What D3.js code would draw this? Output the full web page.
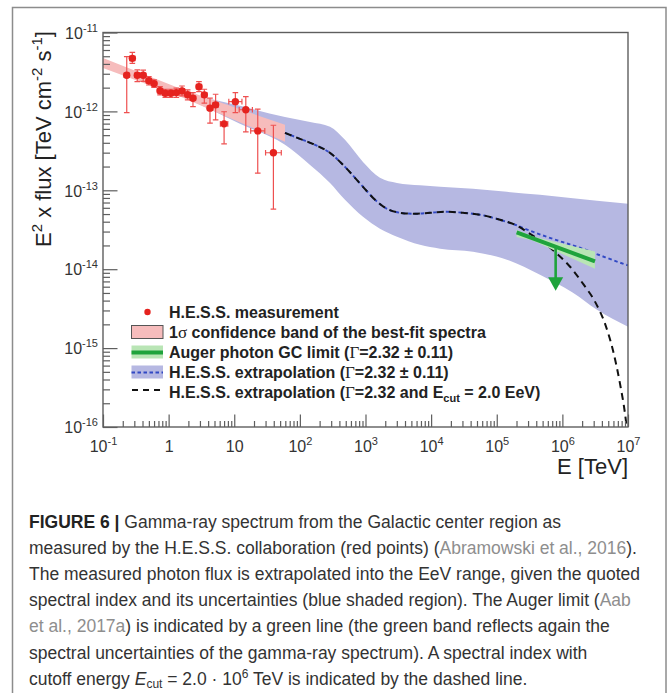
<!DOCTYPE html>
<html><head><meta charset="utf-8">
<script src="https://cdn.jsdelivr.net/npm/d3@7"></script>
<style>body{margin:0;background:#fff}text{font-family:"Liberation Sans",Arial,sans-serif}</style>
</head><body><svg id="c" width="670" height="693"></svg>
<script>
// ---------- data ----------
// H.E.S.S. measured points: energy [TeV], E^2 flux, errors
const hessE   = [0.23,0.28,0.333,0.41,0.50,0.60,0.74,0.89,1.08,1.31,1.6,1.95,2.35,2.9,3.5,4.27,5.2,7.0,10.4,15,22.8,39.5];
const hessF   = [2.87e-12,4.7e-12,2.87e-12,2.87e-12,2.45e-12,2.25e-12,1.83e-12,1.70e-12,1.70e-12,1.73e-12,1.82e-12,1.63e-12,1.47e-12,2.06e-12,1.62e-12,1.10e-12,1.21e-12,6.95e-13,1.33e-12,1.05e-12,5.66e-13,2.99e-13];
const hessFhi = [4.94e-12,5.61e-12,3.35e-12,3.33e-12,2.76e-12,2.51e-12,2.06e-12,1.91e-12,1.91e-12,1.97e-12,2.10e-12,1.87e-12,1.73e-12,2.38e-12,1.91e-12,1.47e-12,1.65e-12,9.9e-13,1.73e-12,1.54e-12,1.07e-12,6.68e-13];
const hessFlo = [9.66e-13,4.07e-12,2.38e-12,2.40e-12,2.16e-12,2.02e-12,1.62e-12,1.51e-12,1.51e-12,1.51e-12,1.57e-12,1.40e-12,1.15e-12,1.78e-12,1.27e-12,7.1e-13,7.8e-13,3.88e-13,9.66e-13,5.5e-13,1.65e-13,5.78e-14];
const hessElo = [0.21,0.255,0.304,0.374,0.456,0.547,0.675,0.812,0.985,1.20,1.46,1.78,2.14,2.65,3.19,3.90,4.74,6.15,8.26,11.9,17.8,30.0];
const hessEhi = [0.252,0.307,0.365,0.449,0.548,0.658,0.811,0.975,1.18,1.44,1.75,2.14,2.58,3.18,3.84,4.68,5.70,7.97,13.1,18.9,29.2,52.1];

// 1 sigma confidence band of best-fit spectrum (pink)
const pinkE  = [0.1, 1.49, 59.3];
const pinkLo = [3.56e-12, 1.55e-12, 4.11e-13];
const pinkHi = [4.75e-12, 1.95e-12, 6.75e-13];

// extrapolation band (blue)
const bandE  = [2.12,12.2,59.3,143,288,487,916,1660,3020,6770,1.37e4,4.35e4,1.43e5,4.56e5,1.45e6,3.37e6,1e7];
const bandHi = [1.665e-12,1.175e-12,8.52e-13,7.36e-13,6.37e-13,4.36e-13,2.29e-13,1.44e-13,1.24e-13,1.157e-13,1.107e-13,1.045e-13,9.57e-14,8.77e-14,7.92e-14,7.36e-14,6.75e-14];
const bandLo = [1.40e-12,6.95e-13,3.77e-13,2.10e-13,1.24e-13,7.59e-14,4.62e-14,3.26e-14,2.58e-14,2.04e-14,1.82e-14,1.67e-14,1.32e-14,8.51e-15,5.04e-15,3.07e-15,1.87e-15];

// extrapolation with cutoff (black dashed)
const cutE = [59.3,100.4,170,288,487,916,1396,2126,3355,5680,9615,1.745e4,3.06e4,5.56e4,1.12e5,1.90e5,3.21e5,5.44e5,8.28e5,1.31e6,2.06e6,3.14e6,4.46e6,5.91e6,7.55e6,9.0e6,1e7];
const cutF = [5.34e-13,4.49e-13,3.77e-13,2.98e-13,1.98e-13,1.107e-13,7.58e-14,5.83e-14,5.19e-14,5.04e-14,5.19e-14,5.34e-14,5.19e-14,4.90e-14,4.23e-14,3.66e-14,2.81e-14,2.10e-14,1.57e-14,1.075e-14,6.55e-15,3.88e-15,2.04e-15,9.30e-16,3.55e-16,1.48e-16,7.15e-17];

// extrapolation without cutoff (blue dotted)
const extE = [59.3,100.4,170,288,487,916,1396,2126,3355,5680,9615,1.745e4,3.06e4,5.56e4,1.12e5,1.90e5,3.21e5,5.44e5,1.02e6,1.856e6,3.745e6,7.55e6,1e7];
const extF = [5.34e-13,4.49e-13,3.77e-13,2.98e-13,1.98e-13,1.107e-13,7.58e-14,5.83e-14,5.19e-14,5.04e-14,5.19e-14,5.34e-14,5.19e-14,4.90e-14,4.23e-14,3.66e-14,3.07e-14,2.62e-14,2.20e-14,1.87e-14,1.50e-14,1.21e-14,1.12e-14];

// Auger photon limit (green)
const augerE  = [2.01e5, 3.14e6];
const augerF  = [2.92e-14, 1.26e-14];
const augerBandE  = [2.01e5, 3.44e5, 3.14e6];
const augerBandHi = [3.16e-14, 2.62e-14, 1.68e-14];
const augerBandLo = [2.56e-14, 2.33e-14, 1.01e-14];
const arrowE = 7.9e5, arrowTop = 1.87e-14, arrowTip = 5.35e-15;

// axis ticks
const xMajor = [1e-1,1,10,1e2,1e3,1e4,1e5,1e6,1e7];
const xTickBase = ["10","1","10","10","10","10","10","10","10"];
const xTickExp  = ["-1","","","2","3","4","5","6","7"];
const yMajor = [1e-16,1e-15,1e-14,1e-13,1e-12,1e-11];
const yTickExp = ["-16","-15","-14","-13","-12","-11"];

const legendLabels = [
  [["H.E.S.S. measurement"]],
  [["1"],["σ","serif"],[" confidence band of the best-fit spectra"]],
  [["Auger photon GC limit ("],["Γ","serif"],["=2.32 ± 0.11)"]],
  [["H.E.S.S. extrapolation ("],["Γ","serif"],["=2.32 ± 0.11)"]],
  [["H.E.S.S. extrapolation ("],["Γ","serif"],["=2.32 and E"],["cut","sub"],[" = 2.0 EeV)"]]
];

const captionLines = [
  [["FIGURE 6 |","b"],[" Gamma-ray spectrum from the Galactic center region as"]],
  [["measured by the H.E.S.S. collaboration (red points) ("],["Abramowski et al., 2016","g"],[")."]],
  [["The measured photon flux is extrapolated into the EeV range, given the quoted"]],
  [["spectral index and its uncertainties (blue shaded region). The Auger limit ("],["Aab","g"]],
  [["et al., 2017a","g"],[") is indicated by a green line (the green band reflects again the"]],
  [["spectral uncertainties of the gamma-ray spectrum). A spectral index with"]],
  [["cutoff energy "],["E","i"],["cut","sub"],[" = 2.0 · 10"],["6","sup"],[" TeV is indicated by the dashed line."]]
];

// ---------- drawing ----------
const svg = d3.select("#c");
svg.append("rect").attr("width",670).attr("height",693).attr("fill","#fff");
svg.append("rect").attr("x",12.5).attr("y",7.5).attr("width",653.5).attr("height",740)
  .attr("fill","none").attr("stroke","#8c8c8c").attr("stroke-width",1.5);

const X0=103, X1=628, Y0=427, Y1=32.5;
const x = d3.scaleLog().domain([1e-1,1e7]).range([X0,X1]);
const y = d3.scaleLog().domain([1e-16,1e-11]).range([Y0,Y1]);

svg.append("defs").append("clipPath").attr("id","clip")
  .append("rect").attr("x",X0).attr("y",Y1).attr("width",X1-X0).attr("height",Y0-Y1);
const plot = svg.append("g").attr("clip-path","url(#clip)");

const bandArea = d3.area().x(d=>x(d.e)).y0(d=>y(d.lo)).y1(d=>y(d.hi));
const curveLine = d3.line().x(d=>x(d.e)).y(d=>y(d.f)).curve(d3.curveMonotoneX);

// blue extrapolation band
plot.append("path")
  .attr("d", bandArea.curve(d3.curveMonotoneX)(bandE.map((e,i)=>({e,lo:bandLo[i],hi:bandHi[i]}))))
  .attr("fill","#b6b8e2");
// pink confidence band
plot.append("path")
  .attr("d", bandArea.curve(d3.curveLinear)(pinkE.map((e,i)=>({e,lo:pinkLo[i],hi:pinkHi[i]}))))
  .attr("fill","#f6bcbc");
// blue dotted extrapolation
plot.append("path").attr("d", curveLine(extE.map((e,i)=>({e,f:extF[i]}))))
  .attr("fill","none").attr("stroke","#3148c4").attr("stroke-width",1.9).attr("stroke-dasharray","3.5,2.8");
// black dashed cutoff
plot.append("path").attr("d", curveLine(cutE.map((e,i)=>({e,f:cutF[i]}))))
  .attr("fill","none").attr("stroke","#111").attr("stroke-width",2).attr("stroke-dasharray","7,5");
// green band + line
plot.append("path")
  .attr("d", bandArea.curve(d3.curveLinear)(augerBandE.map((e,i)=>({e,lo:augerBandLo[i],hi:augerBandHi[i]}))))
  .attr("fill","#b9e5b5");
plot.append("path").attr("d", d3.line().x(d=>x(d.e)).y(d=>y(d.f))(augerE.map((e,i)=>({e,f:augerF[i]}))))
  .attr("stroke","#1fa33c").attr("stroke-width",4).attr("fill","none");
// arrow
const ax = x(arrowE), at = y(arrowTop), ap = y(arrowTip);
plot.append("line").attr("x1",ax).attr("x2",ax).attr("y1",at).attr("y2",ap-12)
  .attr("stroke","#1fa33c").attr("stroke-width",2.6);
plot.append("path").attr("d",`M${ax-7.5},${ap-13.5}L${ax+7.5},${ap-13.5}L${ax},${ap}Z`).attr("fill","#1fa33c");

// error bars and points
const pts = hessE.map((e,i)=>({e,f:hessF[i],flo:hessFlo[i],fhi:hessFhi[i],elo:hessElo[i],ehi:hessEhi[i]}));
const eb = plot.append("g").attr("stroke","#ee5050").attr("stroke-width",1.2).attr("fill","none");
const cap = 2.8;
pts.forEach(d=>{
  const cx=x(d.e), cy=y(d.f);
  eb.append("line").attr("x1",cx).attr("x2",cx).attr("y1",y(d.fhi)).attr("y2",y(d.flo));
  eb.append("line").attr("x1",cx-cap).attr("x2",cx+cap).attr("y1",y(d.fhi)).attr("y2",y(d.fhi));
  eb.append("line").attr("x1",cx-cap).attr("x2",cx+cap).attr("y1",y(d.flo)).attr("y2",y(d.flo));
  eb.append("line").attr("x1",x(d.elo)).attr("x2",x(d.ehi)).attr("y1",cy).attr("y2",cy);
  eb.append("line").attr("x1",x(d.elo)).attr("x2",x(d.elo)).attr("y1",cy-cap).attr("y2",cy+cap);
  eb.append("line").attr("x1",x(d.ehi)).attr("x2",x(d.ehi)).attr("y1",cy-cap).attr("y2",cy+cap);
});
plot.append("g").selectAll("circle").data(pts).join("circle")
  .attr("cx",d=>x(d.e)).attr("cy",d=>y(d.f)).attr("r",3.7).attr("fill","#e5231f");

// plot frame
svg.append("rect").attr("x",X0).attr("y",Y1).attr("width",X1-X0).attr("height",Y0-Y1)
  .attr("fill","none").attr("stroke","#5e5e5e").attr("stroke-width",1.4);

// axes
const isDecade = v => Math.abs(Math.log10(v)-Math.round(Math.log10(v)))<1e-6;
const xMinor = x.ticks().filter(v=>!isDecade(v));
const yMinor = y.ticks().filter(v=>!isDecade(v));
const axColor = "#5e5e5e";
function styleAxis(g){ g.select(".domain").remove(); g.selectAll(".tick line").attr("stroke",axColor).attr("stroke-width",1.2); }

svg.append("g").attr("transform",`translate(0,${Y0})`)
  .call(d3.axisBottom(x).tickValues(xMinor).tickSize(-6).tickFormat("")).call(styleAxis);
const gxM = svg.append("g").attr("transform",`translate(0,${Y0})`)
  .call(d3.axisBottom(x).tickValues(xMajor).tickSize(-12.5).tickPadding(14).tickFormat("")).call(styleAxis);
gxM.selectAll(".tick text").each(function(d,i){
  const t = d3.select(this).attr("font-size",16).attr("fill","#333").attr("font-family","Liberation Sans, Arial, sans-serif");
  t.text(null);
  t.append("tspan").text(xTickBase[i]);
  if (xTickExp[i]) t.append("tspan").attr("font-size",11).attr("dy","-7").text(xTickExp[i]);
});

svg.append("g").attr("transform",`translate(${X0},0)`)
  .call(d3.axisLeft(y).tickValues(yMinor).tickSize(-7).tickFormat("")).call(styleAxis);
const gyM = svg.append("g").attr("transform",`translate(${X0},0)`)
  .call(d3.axisLeft(y).tickValues(yMajor).tickSize(-14.5).tickPadding(5).tickFormat("")).call(styleAxis);
gyM.selectAll(".tick text").each(function(d,i){
  const t = d3.select(this).attr("font-size",16).attr("fill","#333").attr("font-family","Liberation Sans, Arial, sans-serif").attr("dy","0.36em");
  t.text(null);
  t.append("tspan").text("10");
  t.append("tspan").attr("font-size",11).attr("dy","-7").text(yTickExp[i]);
});

// axis titles
const yt = svg.append("text").attr("transform","translate(51,139) rotate(-90)")
  .attr("text-anchor","middle").attr("font-size",22).attr("fill","#222");
yt.append("tspan").text("E");
yt.append("tspan").attr("font-size",15).attr("dy",-9).text("2");
yt.append("tspan").attr("dy",9).text(" x flux [TeV cm");
yt.append("tspan").attr("font-size",15).attr("dy",-9).text("-2");
yt.append("tspan").attr("dy",9).text(" s");
yt.append("tspan").attr("font-size",15).attr("dy",-9).text("-1");
yt.append("tspan").attr("dy",9).text("]");

svg.append("text").attr("x",628).attr("y",474).attr("text-anchor","end")
  .attr("font-size",22).attr("fill","#222").text("E [TeV]");

// legend
const LX0 = 131.5, LX1 = 163, LTX = 169, LB0 = 318, LDY = 20;
const lg = svg.append("g");
legendLabels.forEach((segs,i)=>{
  const t = lg.append("text").attr("x",LTX).attr("y",LB0+i*LDY)
    .attr("font-size",16).attr("font-weight","bold").attr("fill","#222");
  let prevShift = 0;
  segs.forEach(s=>{
    const sp = t.append("tspan").text(s[0]);
    let shift = 0;
    if (s[1]==="serif") sp.attr("font-family","Liberation Serif, serif").attr("font-weight","normal").attr("font-size",17);
    if (s[1]==="sub") { sp.attr("font-size",11); shift = 4; }
    if (shift!==prevShift) sp.attr("dy", shift-prevShift);
    prevShift = shift;
  });
});
const cyL = i => LB0 + i*LDY - 6;
lg.append("circle").attr("cx",147.5).attr("cy",cyL(0)).attr("r",3.2).attr("fill","#e5231f");
lg.append("rect").attr("x",LX0).attr("y",cyL(1)-6.5).attr("width",LX1-LX0).attr("height",13)
  .attr("fill","#f6bcbc").attr("stroke","#555").attr("stroke-width",1);
lg.append("rect").attr("x",LX0).attr("y",cyL(2)-6.5).attr("width",LX1-LX0).attr("height",13).attr("fill","#b9e5b5");
lg.append("line").attr("x1",LX0).attr("x2",LX1).attr("y1",cyL(2)+0.5).attr("y2",cyL(2)+0.5)
  .attr("stroke","#1fa33c").attr("stroke-width",4);
lg.append("rect").attr("x",LX0).attr("y",cyL(3)-6.5).attr("width",LX1-LX0).attr("height",13).attr("fill","#b6b8e2");
lg.append("line").attr("x1",LX0).attr("x2",LX1).attr("y1",cyL(3)+0.5).attr("y2",cyL(3)+0.5)
  .attr("stroke","#3148c4").attr("stroke-width",1.9).attr("stroke-dasharray","3.5,2.5");
lg.append("line").attr("x1",132).attr("x2",161).attr("y1",cyL(4)-2).attr("y2",cyL(4)-2)
  .attr("stroke","#111").attr("stroke-width",2).attr("stroke-dasharray","6,5");

// caption
const CX = 29, CB0 = 527.5, CDY = 26.2;
captionLines.forEach((segs,i)=>{
  const t = svg.append("text").attr("x",CX).attr("y",CB0+i*CDY).attr("font-size",17.5).attr("fill","#333");
  let prevShift = 0;
  segs.forEach(s=>{
    const sp = t.append("tspan").text(s[0]);
    let shift = 0;
    if (s[1]==="b") sp.attr("font-weight","bold").attr("fill","#222");
    if (s[1]==="g") sp.attr("fill","#8e8e8e");
    if (s[1]==="i") sp.attr("font-style","italic");
    if (s[1]==="sub") { sp.attr("font-size",12); shift = 3.5; }
    if (s[1]==="sup") { sp.attr("font-size",12); shift = -7; }
    if (shift!==prevShift) sp.attr("dy", shift-prevShift);
    prevShift = shift;
  });
});
</script></body></html>
